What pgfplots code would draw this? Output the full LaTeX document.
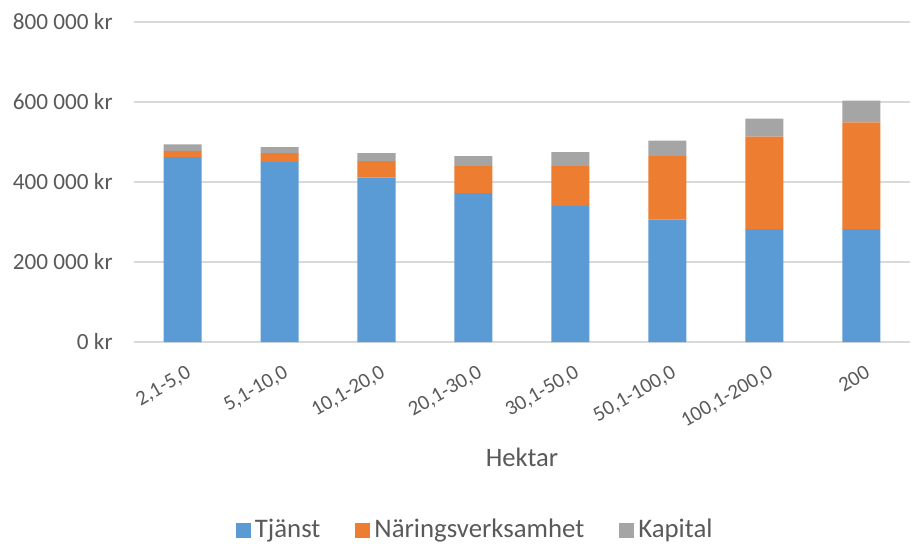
\documentclass[border=0pt]{standalone}
\usepackage{pgfplots}
\pgfplotsset{compat=1.18}
\usepackage{fontspec}
\setmainfont{Carlito}
\definecolor{cBlue}{HTML}{5B9BD5}
\definecolor{cOrange}{HTML}{ED7D31}
\definecolor{cGray}{HTML}{A5A5A5}
\definecolor{cText}{HTML}{595959}
\definecolor{cGrid}{HTML}{D9D9D9}
\begin{document}
\begin{tikzpicture}
\useasboundingbox (0,0) rectangle (456.5pt,271.5pt);
\begin{axis}[
  at={(67pt,100.5pt)}, anchor=south west,
  scale only axis, width=388pt, height=160pt,
  ybar stacked, bar width=19pt,
  xmin=-0.5, xmax=7.5, ymin=0, ymax=800000,
  scaled y ticks=false,
  xtick={0,1,2,3,4,5,6,7},
  xticklabels={{2,1-5,0},{5,1-10,0},{10,1-20,0},{20,1-30,0},{30,1-50,0},{50,1-100,0},{100,1-200,0},{200}},
  ytick={0,200000,400000,600000,800000},
  yticklabels={0 kr,200 000 kr,400 000 kr,600 000 kr,800 000 kr},
  /pgf/number format/assume math mode=true,
  axis line style={draw=none},
  major tick length=0pt,
  ymajorgrids, grid style={cGrid, line width=0.75pt},
  tick label style={font=\fontsize{11.6}{14}\selectfont, text=cText},
  yticklabel style={inner sep=0pt, anchor=east, xshift=-10.5pt},
  xticklabel style={font=\fontsize{10.5}{12}\selectfont, inner sep=0pt, xshift=1.5pt, yshift=-11pt, rotate=30, anchor=north east},
  xlabel={Hektar},
  xlabel style={at={(axis description cs:0.5,0)}, anchor=center, yshift=-57.5pt, font=\fontsize{13.3}{15}\selectfont, text=cText},
  legend columns=3,
  legend style={at={(axis description cs:0.441,0)}, anchor=center, yshift=-94pt, draw=none, fill=none,
    font=\fontsize{13.4}{15}\selectfont, text=cText,
    /tikz/every even column/.append style={column sep=15.5pt}},
  legend image code/.code={\fill[#1] (0pt,-3.75pt) rectangle (7.5pt,3.75pt);},
  legend cell align=left,
]
\addplot+[fill=cBlue, draw=none] coordinates {(0,462000) (1,450000) (2,411000) (3,372500) (4,340000) (5,306000) (6,282500) (7,282500)};
\addplot+[fill=cOrange, draw=none] coordinates {(0,16000) (1,22000) (2,41500) (3,67500) (4,100000) (5,159000) (6,231000) (7,266500)};
\addplot+[fill=cGray, draw=none] coordinates {(0,16000) (1,15500) (2,19500) (3,25000) (4,35000) (5,38500) (6,45000) (7,54500)};
\legend{Tjänst,Näringsverksamhet,Kapital}
\end{axis}
\end{tikzpicture}
\end{document}
